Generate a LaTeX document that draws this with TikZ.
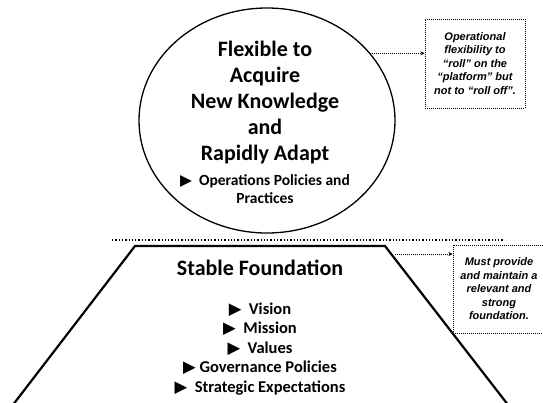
\documentclass[tikz,border=0pt]{standalone}
\usepackage{fontspec}
\setmainfont{Carlito}
\newfontfamily\notefont{Liberation Sans}
\newfontfamily\symfont{DejaVu Sans}
\usetikzlibrary{arrows.meta, positioning, shapes.geometric}
\newcommand{\tri}{{\symfont\char"25B6}}

\begin{document}
\begin{tikzpicture}[
  x=1pt, y=-1pt,
  note/.style={draw, densely dotted, line width=1pt, align=center,
    font=\notefont\bfseries\itshape\fontsize{11}{13.5}\selectfont},
  big/.style={align=center, font=\bfseries\fontsize{22}{26}\selectfont},
  item/.style={align=center, font=\bfseries\fontsize{16.5}{19.5}\selectfont},
  link/.style={densely dotted, line width=1pt, ->},
  >={Stealth[length=4pt, width=4pt]}
]
\useasboundingbox (0,0) rectangle (543,402);
\clip (0,0) rectangle (543,402);

% Top: the ellipse
\node[ellipse, draw, line width=1.3pt, minimum width=256pt, minimum height=225pt] (flex) at (267,120.5) {};
\node[big] (flexTitle) at (265,103) {Flexible to\\Acquire\\New Knowledge\\and\\Rapidly Adapt};
\node[item, font=\bfseries\fontsize{15.5}{18}\selectfont] (flexOps) at (265,189) {\tri\ \ Operations Policies and\\Practices};

% Bottom: the foundation
\draw[line width=2.2pt] (9,410) coordinate (bl) -- (135,246) coordinate (tl)
  -- (385,246) coordinate (tr) -- (512,410) coordinate (br);
\draw[dotted, line width=1.3pt] (112,240) -- (503,240);
\node[big] (found) at (260,268) {Stable Foundation};
\node[item] (foundItems) at (260,349) {\tri\ \ Vision\\\tri\ \ Mission\\\tri\ \ Values\\
  \tri\ Governance Policies\\\tri\ \ Strategic Expectations};

% Notes
\node[note, minimum width=100pt, minimum height=89pt] (note1) at (475,63.5)
  {Operational\\flexibility to\\“roll” on the\\“platform” but\\not to “roll off”.};
\node[note, minimum width=92pt, minimum height=88pt] (note2) at (499,289)
  {Must provide\\and maintain a\\relevant and\\strong\\foundation.};

% Arrows
\coordinate (a2) at (395,254);
\draw[link] (flex.33) -- (flex.33 -| note1.west);
\draw[link] (a2) -- (a2 -| note2.west);
\end{tikzpicture}
\end{document}
